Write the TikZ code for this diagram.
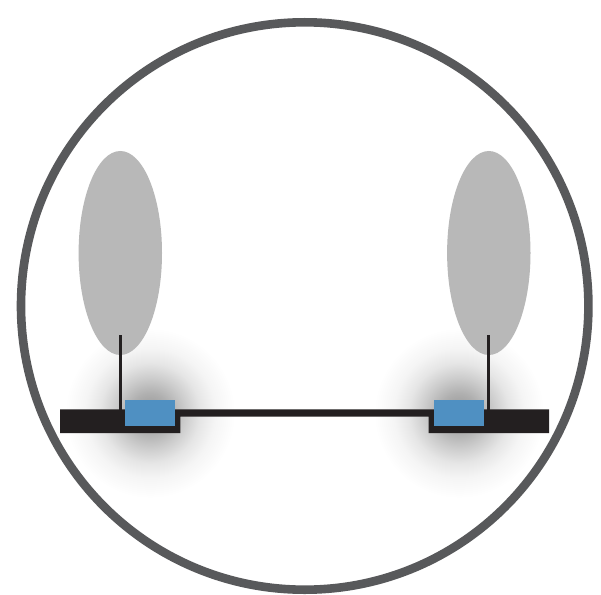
\documentclass[tikz,border=0pt]{standalone}
\usepackage{tikz}
\definecolor{ringgray}{HTML}{58595B}
\definecolor{petal}{HTML}{B8B8B8}
\definecolor{barblack}{HTML}{231F20}
\definecolor{padblue}{HTML}{4F90C2}
\pgfdeclareradialshading{softshadow}{\pgfpoint{0bp}{0bp}}{
  color(0bp)=(black!42);
  color(5bp)=(black!31);
  color(8.75bp)=(black!20);
  color(12.5bp)=(black!10);
  color(16.25bp)=(black!4);
  color(21.25bp)=(white);
  color(50bp)=(white)}
\tikzset{
  ring/.style={draw=ringgray,line width=8.6bp},
  petalshape/.style={fill=petal,draw=none},
  bar/.style={fill=barblack,draw=none},
  stem/.style={fill=barblack,draw=none},
  pad/.style={fill=padblue,draw=none},
  shadowblob/.style={shading=softshadow,draw=none}
}
\begin{document}
\begin{tikzpicture}[x=1bp,y=-1bp]
\useasboundingbox (0,0) rectangle (601,595);
\fill[white] (0,0) rectangle (601,595);
% soft shadows
\path[shadowblob] (150,413) circle[radius=100];
\path[shadowblob] (459,413) circle[radius=100];
% ring
\draw[ring] (304.7,306) circle[radius=283.7];
% petals
\path[petalshape] (120.3,253) ellipse[x radius=41.7,y radius=102];
\path[petalshape] (488.8,253) ellipse[x radius=41.7,y radius=102];
% stems
\path[stem] (118.6,335) rectangle (121.6,410);
\path[stem] (487.2,335) rectangle (490.2,410);
% bar
\path[bar] (60,409.3) -- (549,409.3) -- (549,433) -- (428.5,433) -- (428.5,416.7) -- (180.3,416.7) -- (180.3,433) -- (60,433) -- cycle;
% pads
\path[pad] (125,400) rectangle (175,425.8);
\path[pad] (434,400) rectangle (484,425.8);
\end{tikzpicture}
\end{document}
